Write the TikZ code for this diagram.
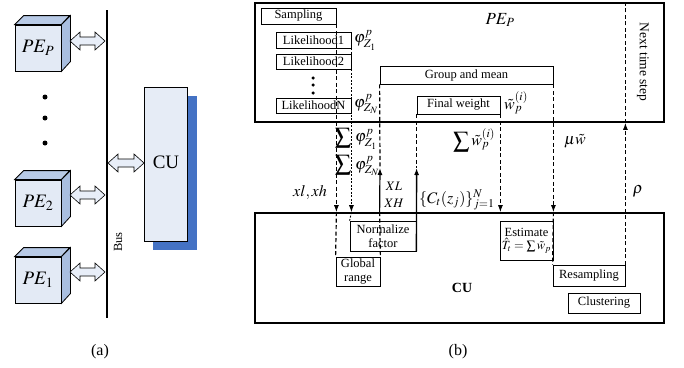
\documentclass[tikz,border=0pt]{standalone}
\usepackage{mathptmx}
\usepackage{fontspec}
\setmainfont{Liberation Serif}
\usetikzlibrary{arrows.meta}
\definecolor{facefront}{HTML}{E3EAF5}
\definecolor{facetop}{HTML}{B8CAE6}
\definecolor{faceside}{HTML}{A9BEDF}
\definecolor{cufill}{HTML}{E6ECF6}
\definecolor{cushadow}{HTML}{4472C4}
\definecolor{arrfill}{HTML}{E8EEF8}
\newcommand{\fsz}{\fontsize{12.5}{14}\selectfont}
\newcommand{\msz}{\fontsize{16}{18}\selectfont}
\begin{document}
\begin{tikzpicture}[x=1pt,y=-1pt,
  blk/.style={draw, line width=0.8pt, inner sep=0pt, font=\fsz, align=center},
  bigbox/.style={draw, line width=1.6pt, inner sep=0pt},
  dsh/.style={line width=1.2pt, dash pattern=on 4pt off 2.5pt},
  fdsh/.style={line width=0.9pt, dash pattern=on 2pt off 1.5pt},
  tip/.style={-{Latex[length=7pt,width=5pt]}},
  lbl/.style={font=\msz, inner sep=0pt},
  cubef/.style={draw, line width=0.8pt, fill=facefront, minimum width=46pt, minimum height=46pt, inner sep=0pt, font=\fontsize{19}{21}\selectfont},
  face/.style={draw, line width=0.8pt},
  dbl/.style={draw, line width=0.6pt, fill=arrfill}
]
\useasboundingbox (0,0) rectangle (684,367);

% ================= panel (a) =================
\coordinate (bt) at (107,10);
\coordinate (bb) at (107,318);
\draw[line width=1.3pt] (bt) -- (bb);
\node[rotate=90, font=\fontsize{12.5}{14}\selectfont] (buslbl) at (118,242) {Bus};

\foreach \nm/\yc/\sub in {pep/48/P, petwo/203/2, peone/280/1}{
  \node[cubef] (\nm) at (38,\yc) {$PE_{\sub}$};
  \filldraw[face, fill=facetop] (\nm.north west) -- ++(9,-9) -- ++(46,0) -- (\nm.north east) -- cycle;
  \filldraw[face, fill=faceside] (\nm.north east) -- ++(9,-9) -- ++(0,46) -- (\nm.south east) -- cycle;
}
\foreach \yy/\nm in {97/da,118/db,143/dc}{
  \node[circle, fill=black, inner sep=0pt, minimum size=5pt] (\nm) at (45,\yy) {};
}

\fill[cushadow] (153,96) rectangle (197,250);
\node[draw, line width=0.8pt, fill=cufill, minimum width=43pt, minimum height=154pt, inner sep=0pt] (cua) at (165.5,164) {};
\node[font=\fontsize{19}{21}\selectfont, inner sep=0pt] (cualbl) at (166,162) {CU};

% double arrows
\foreach \yy in {41,195,272}{
  \draw[dbl] (70,\yy) -- ++(10,-9) -- ++(0,5) -- ++(15,0) -- ++(0,-5) -- ++(10,9) -- ++(-10,9) -- ++(0,-5) -- ++(-15,0) -- ++(0,5) -- cycle;
}
\draw[dbl] (108,163) -- ++(10,-9) -- ++(0,5) -- ++(16,0) -- ++(0,-5) -- ++(10,9) -- ++(-10,9) -- ++(0,-5) -- ++(-16,0) -- ++(0,5) -- cycle;

\node[font=\fontsize{16}{18}\selectfont] (capa) at (100,352) {(a)};

% ================= panel (b) =================
\node[bigbox, minimum width=409pt, minimum height=119pt] (peb) at (459.5,62.5) {};
\node[bigbox, minimum width=409pt, minimum height=110pt] (cub) at (459.5,268) {};

\node[lbl, font=\fontsize{17}{19}\selectfont] (pelbl) at (500,20) {$PE_P$};
\node[rotate=-90, font=\fontsize{13.5}{15}\selectfont, inner sep=0pt] (nts) at (643,62) {Next time step};
\node[font=\bfseries\fontsize{14}{16}\selectfont, inner sep=0pt] (culbl) at (462,288) {CU};

\node[blk, minimum width=75pt, minimum height=16pt] (samp) at (298.5,16) {Sampling};
\node[blk, minimum width=75pt, minimum height=16pt] (lik1) at (313.5,40) {Likelihood1};
\node[blk, minimum width=75pt, minimum height=15pt] (lik2) at (313.5,61.5) {Likelihood2};
\node[blk, minimum width=75pt, minimum height=15pt] (likn) at (313.5,105.5) {LikelihoodN};
\foreach \yy/\nm in {78/ea,85/eb,93/ec}{
  \node[circle, fill=black, inner sep=0pt, minimum size=3.5pt] (\nm) at (313,\yy) {};
}
\node[blk, minimum width=173pt, minimum height=18pt] (grp) at (466.5,75) {Group and mean};
\node[blk, minimum width=83pt, minimum height=18pt] (fw) at (458.5,105) {Final weight};
\node[blk, minimum width=44pt, minimum height=29pt] (glob) at (358,271.5) {Global\\range};
\node[blk, minimum width=66pt, minimum height=30pt] (norm) at (383,236) {Normalize\\factor};
\node[blk, minimum width=53pt, minimum height=39pt] (est) at (526.5,240.5) {Estimate\\[-1pt]$\hat{T}_t=\sum\tilde{w}_p$};
\node[blk, minimum width=72pt, minimum height=21pt] (res) at (589,275.5) {Resampling};
\node[blk, minimum width=72pt, minimum height=20pt] (clu) at (604,303) {Clustering};

% connectors
\coordinate (c1) at (samp.south east |- cub.north);
\draw[dsh, tip] (samp.south east) -- (c1);
\draw[dsh] (c1) -- (glob.north west);

\coordinate (c2) at (lik1.south east |- cub.north);
\draw[fdsh, tip] (lik1.south east) -- (c2);
\draw[fdsh] (c2) -- (norm.north west);

\coordinate (c3) at (grp.south west |- cub.north);
\coordinate (h3) at (380,168);
\draw[dsh] (grp.south west) -- (h3);
\draw[line width=1.2pt, tip] (c3) -- (h3);
\draw[dsh] (c3) -- (glob.north east);

\coordinate (h4) at (fw.south west |- 0,168);
\draw[dsh] (fw.south west) -- (h4);
\draw[line width=1.4pt, tip] (norm.south east) -- (h4);

\coordinate (c5) at (fw.south east |- cub.north);
\draw[dsh, tip] (fw.south east) -- (c5);

\coordinate (c6) at (grp.south east |- cub.north);
\draw[dsh, tip] (grp.south east) -- (c6);
\draw[dsh] (c6) -- (res.north west);

\coordinate (c7) at (res.north east |- peb.south);
\coordinate (c8) at (res.north east |- peb.north);
\draw[dsh, tip] (res.north east) -- (c7);
\draw[dsh] (c7) -- (c8);

% labels
\node[lbl, anchor=west] (phi1) at (354,40) {$\varphi^{p}_{Z_1}$};
\node[lbl, anchor=west] (phin) at (354,104) {$\varphi^{p}_{Z_N}$};
\node[lbl] (s1) at (343,138) {$\displaystyle\sum$};
\node[lbl] (s2) at (343,165) {$\displaystyle\sum$};
\node[lbl, anchor=west] (phi1b) at (355,139) {$\varphi^{p}_{Z_1}$};
\node[lbl, anchor=west] (phinb) at (355,166) {$\varphi^{p}_{Z_N}$};
\node[lbl, anchor=west] (wt) at (504,103) {$\tilde{w}^{(i)}_{p}$};
\node[lbl] (swt) at (474,140) {$\displaystyle\sum\tilde{w}^{(i)}_{p}$};
\node[lbl] (muw) at (575,141) {$\mu\tilde{w}$};
\node[lbl] (xlxh) at (310,193) {$xl, xh$};
\node[lbl, font=\fontsize{13}{15}\selectfont] (xl) at (394,186) {$XL$};
\node[lbl, font=\fontsize{13}{15}\selectfont] (xh) at (394,203) {$XH$};
\node[lbl, anchor=west] (ct) at (419,200) {$\{C_t(z_j)\}_{j=1}^{N}$};
\node[lbl] (rho) at (638,191) {$\rho$};

\node[font=\fontsize{16}{18}\selectfont] (capb) at (458,352) {(b)};
\end{tikzpicture}
\end{document}
